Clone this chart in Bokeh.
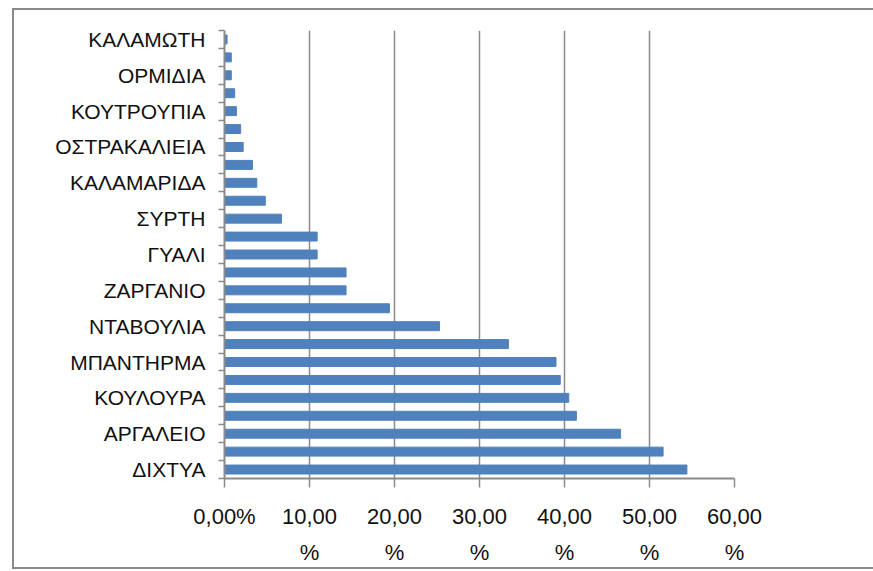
from bokeh.plotting import figure
from bokeh.models import FixedTicker
from bokeh.embed import file_html
from bokeh.resources import INLINE

# values read top -> bottom (percent)
values = [0.3, 0.8, 0.8, 1.2, 1.4, 1.9, 2.2, 3.3, 3.8, 4.8, 6.7, 10.9, 10.9,
          14.3, 14.3, 19.4, 25.3, 33.4, 39.0, 39.5, 40.5, 41.4, 46.6, 51.6, 54.4]
# labels shown on every other bar, top -> bottom
tick_labels = ["ΚΑΛΑΜΩΤΗ", "ΟΡΜΙΔΙΑ", "ΚΟΥΤΡΟΥΠΙΑ", "ΟΣΤΡΑΚΑΛΙΕΙΑ", "ΚΑΛΑΜΑΡΙΔΑ",
               "ΣΥΡΤΗ", "ΓΥΑΛΙ", "ΖΑΡΓΑΝΙΟ", "ΝΤΑΒΟΥΛΙΑ", "ΜΠΑΝΤΗΡΜΑ",
               "ΚΟΥΛΟΥΡΑ", "ΑΡΓΑΛΕΙΟ", "ΔΙΧΤΥΑ"]
x_ticks = [0, 10, 20, 30, 40, 50, 60]
x_tick_labels = ["0,00%", "10,00\n%", "20,00\n%", "30,00\n%", "40,00\n%", "50,00\n%", "60,00\n%"]

n = len(values)
ypos = [n - 1 - i for i in range(n)]

W, H = 859, 557
grid_col = "#8a8a8a"
p = figure(width=W, height=H, output_backend="svg", toolbar_location=None,
           x_range=(0, 60), y_range=(-0.5, n - 0.5),
           min_border_left=210, min_border_right=139,
           min_border_top=20, min_border_bottom=81)
p.outline_line_color = None
p.background_fill_color = "white"
p.border_fill_color = "white"
p.margin = (10, 0, 0, 14)
# outer chart frame: left, top and bottom edges (right edge lies outside the window)
p.styles = {"box-shadow": ", ".join(s + " " + grid_col for s in
            ["-2px 0 0 0", "0 -2px 0 0", "0 2px 0 0", "-2px -2px 0 0", "-2px 2px 0 0"])}

p.hbar(y=ypos, right=values, height=0.5, left=0, color="#4F81BD")

p.ygrid.grid_line_color = None
p.xgrid.grid_line_color = grid_col
p.xgrid.grid_line_width = 1.5
p.xgrid.ticker = FixedTicker(ticks=x_ticks[1:])

# x axis
xa = p.xaxis[0]
xa.ticker = FixedTicker(ticks=x_ticks)
xa.major_label_overrides = {t: l for t, l in zip(x_ticks, x_tick_labels)}
xa.axis_line_color = grid_col
xa.axis_line_width = 2
xa.major_tick_line_color = grid_col
xa.major_tick_line_width = 1.5
xa.major_tick_out = 9
xa.major_tick_in = 0
xa.minor_tick_line_color = None
xa.major_label_text_font = "Liberation Sans"
xa.major_label_text_font_size = "22px"
xa.major_label_text_color = "#111111"
xa.major_label_text_line_height = 1.45
xa.major_label_standoff = 16

# y axis
ya = p.yaxis[0]
label_pos = [n - 1 - 2 * k for k in range(len(tick_labels))]
ya.ticker = FixedTicker(ticks=label_pos, minor_ticks=[i - 0.5 for i in range(n + 1)])
ya.major_label_overrides = {t: l for t, l in zip(label_pos, tick_labels)}
ya.axis_line_color = grid_col
ya.axis_line_width = 2
ya.major_tick_line_color = None
ya.major_tick_out = 0
ya.major_tick_in = 0
ya.minor_tick_line_color = grid_col
ya.minor_tick_line_width = 1.5
ya.minor_tick_out = 6
ya.minor_tick_in = 0
ya.major_label_text_font = "Liberation Sans"
ya.major_label_text_font_size = "21px"
ya.major_label_text_color = "#111111"
ya.major_label_standoff = 13

open("out.html", "w").write(file_html(p, INLINE))
